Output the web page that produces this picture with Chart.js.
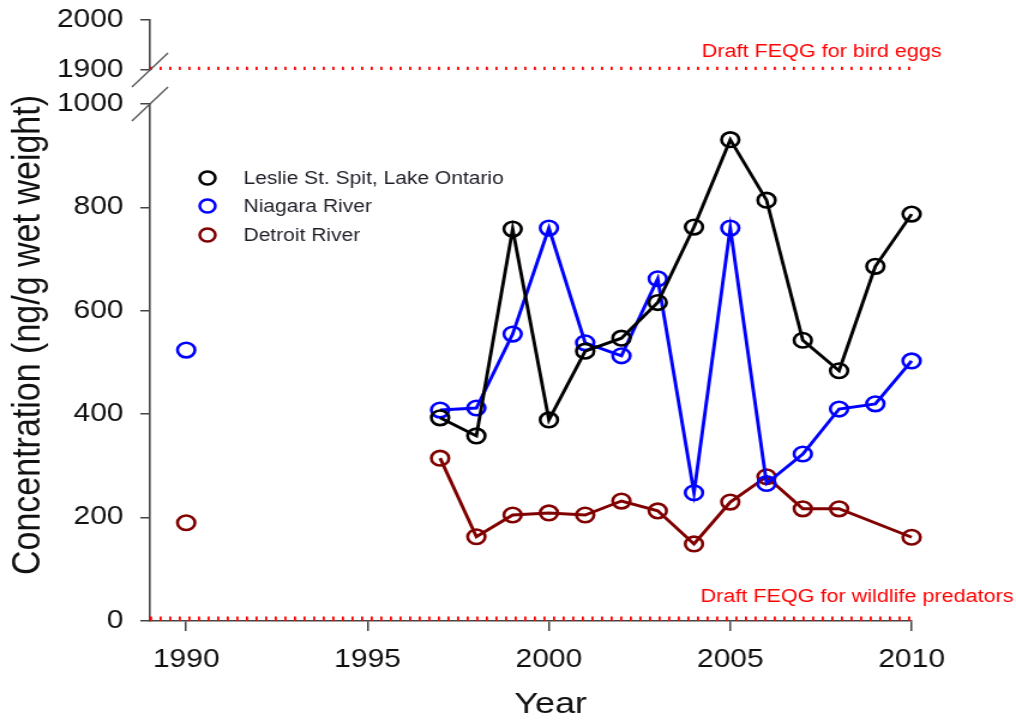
<!DOCTYPE html>
<html>
<head>
<meta charset="utf-8">
<script src="https://cdn.jsdelivr.net/npm/chart.js@4.4.1/dist/chart.umd.min.js"></script>
<style>
  html, body { margin: 0; padding: 0; background: #fff; overflow: hidden; }
  /* the figure is laid out on a narrower canvas and widened horizontally */
  #wrap { width: 847px; height: 721px; transform: scaleX(1.1995); transform-origin: 0 0; }
</style>
</head>
<body>
<div id="wrap"><canvas id="c"></canvas></div>
<script>
// Sampling years
const years = [1990, 1997, 1998, 1999, 2000, 2001, 2002, 2003, 2004, 2005, 2006, 2007, 2008, 2009, 2010];

// Concentrations (ng/g wet weight)
const leslieSpit   = [null, 393, 358, 758, 389, 522, 547, 616, 762, 931, 814, 543, 484, 686, 787];
const niagaraRiver = [524, 408, 412, 555, 760, 538, 513, 662, 248, 760, 266, 323, 410, 420, 503];
const detroitRiver = [190, 315, 163, 205, 209, 205, 232, 213, 149, 230, 279, 217, 217, null, 162];

// Draft FEQG guideline values
const feqgBirdEggs = 1900;
const feqgPredators = 0;
const guideLabels = ['Draft FEQG for bird eggs', 'Draft FEQG for wildlife predators'];

// Axes
const yearRange = [1989, 2010];
const yearTicks = [1990, 1995, 2000, 2005, 2010];
const lowRange = [0, 1000];
const lowTicks = [0, 200, 400, 600, 800, 1000];
const highRange = [1900, 2000];
const highTicks = [1900, 2000];

const seriesNames = ['Leslie St. Spit, Lake Ontario', 'Niagara River', 'Detroit River'];
const seriesColors = ['#000000', '#0000ff', '#800000'];

const FONT = '"Liberation Sans", Arial, sans-serif';
const AXIS = '#444444';

const toPoints = vals => years.map((yr, i) => ({ x: yr, y: vals[i] }));

// hide the connector across the long sampling gap after 1990
const gapSegment = {
  borderColor: ctx => (ctx.p1.parsed.x - ctx.p0.parsed.x > 3 ? 'rgba(0,0,0,0)' : undefined)
};

function seriesDataset(i, vals) {
  return {
    label: seriesNames[i],
    data: toPoints(vals),
    yAxisID: 'y',
    clip: false,
    borderColor: seriesColors[i],
    borderWidth: 2.9,
    pointRadius: 7.3,
    pointBorderWidth: 2.6,
    pointBorderColor: seriesColors[i],
    pointBackgroundColor: 'rgba(0,0,0,0)',
    pointHoverRadius: 7.3,
    spanGaps: true,
    segment: gapSegment,
    tension: 0
  };
}

function guideDataset(value, axis, width) {
  return {
    label: 'guide',
    data: [{ x: yearRange[0], y: value }, { x: yearRange[1], y: value }],
    yAxisID: axis,
    borderColor: '#ff0000',
    borderWidth: width,
    borderDash: [1.8, 6.2],
    borderCapStyle: 'butt',
    pointRadius: 0
  };
}

const extras = {
  id: 'extras',
  afterDraw(chart) {
    const { ctx, scales, chartArea } = chart;
    const ax = chartArea.left;
    ctx.save();

    // axis break marks
    ctx.strokeStyle = '#555555';
    ctx.lineWidth = 1.3;
    [scales.y.getPixelForValue(lowRange[1]), scales.yTop.getPixelForValue(highRange[0])].forEach(py => {
      ctx.beginPath();
      ctx.moveTo(ax - 15, py + 17);
      ctx.lineTo(ax + 15, py - 17);
      ctx.stroke();
    });

    // guideline captions
    ctx.fillStyle = '#ff0000';
    ctx.font = '18px ' + FONT;
    ctx.textAlign = 'left';
    ctx.textBaseline = 'alphabetic';
    ctx.fillText(guideLabels[0], ax + 460, scales.yTop.getPixelForValue(feqgBirdEggs) - 13);
    ctx.fillText(guideLabels[1], ax + 459, scales.y.getPixelForValue(feqgPredators) - 19);

    // legend
    const rows = [178, 206, 235];
    ctx.font = '17.5px ' + FONT;
    seriesNames.forEach((name, i) => {
      ctx.beginPath();
      ctx.strokeStyle = seriesColors[i];
      ctx.lineWidth = 2.5;
      ctx.arc(ax + 48, rows[i], 6.5, 0, Math.PI * 2);
      ctx.stroke();
      ctx.fillStyle = '#1e1e28';
      ctx.fillText(name, ax + 78, rows[i] + 6);
    });

    // axis titles
    ctx.fillStyle = '#111111';
    ctx.font = '30px ' + FONT;
    ctx.textAlign = 'center';
    ctx.fillText('Year', 459, 713);

    ctx.translate(24, 335);
    ctx.rotate(-Math.PI / 2);
    ctx.font = '34px ' + FONT;
    ctx.textBaseline = 'middle';
    ctx.fillText('Concentration (ng/g wet weight)', 0, 0);
    ctx.restore();
  }
};

const tickFont = { family: FONT, size: 25 };
const plainLabel = v => String(v);

function leftAxis(range, ticks, weight, stackWeight) {
  return {
    type: 'linear',
    position: 'left',
    stack: 'conc',
    stackWeight: stackWeight,
    weight: weight,
    min: range[0],
    max: range[1],
    afterBuildTicks: s => { s.ticks = ticks.map(v => ({ value: v })); },
    afterFit: s => { s.width = 125; s.paddingTop = 0; s.paddingBottom = 0; },
    border: { display: true, color: AXIS, width: 1.6 },
    grid: { display: true, drawOnChartArea: false, drawTicks: true, tickLength: 8, color: AXIS, lineWidth: 1.5 },
    ticks: { font: tickFont, color: '#111111', padding: 14, autoSkip: false, callback: plainLabel }
  };
}

new Chart(document.getElementById('c'), {
  type: 'line',
  data: {
    datasets: [
      seriesDataset(0, leslieSpit),
      seriesDataset(1, niagaraRiver),
      seriesDataset(2, detroitRiver),
      guideDataset(feqgBirdEggs, 'yTop', 6.5),
      guideDataset(feqgPredators, 'y', 9)
    ]
  },
  options: {
    responsive: true,
    maintainAspectRatio: false,
    animation: false,
    events: [],
    layout: { padding: { top: 20, right: 87, left: 0, bottom: 0 } },
    plugins: { legend: { display: false }, tooltip: { enabled: false } },
    scales: {
      x: {
        type: 'linear',
        min: yearRange[0],
        max: yearRange[1],
        afterBuildTicks: s => { s.ticks = yearTicks.map(v => ({ value: v })); },
        afterFit: s => { s.height = 100; },
        border: { display: true, color: AXIS, width: 1.6 },
        grid: { display: true, drawOnChartArea: false, drawTicks: true, tickLength: 10, color: AXIS, lineWidth: 1.5 },
        ticks: { font: tickFont, color: '#111111', padding: 14, maxRotation: 0, autoSkip: false, callback: plainLabel }
      },
      yTop: leftAxis(highRange, highTicks, 3, 50),
      yGap: {
        type: 'linear',
        position: 'left',
        stack: 'conc',
        stackWeight: 34,
        weight: 2,
        min: 0,
        max: 1,
        afterFit: s => { s.width = 125; s.paddingTop = 0; s.paddingBottom = 0; },
        border: { display: false },
        grid: { display: false },
        ticks: { display: false }
      },
      y: leftAxis(lowRange, lowTicks, 1, 517)
    }
  },
  plugins: [extras]
});
</script>
</body>
</html>
